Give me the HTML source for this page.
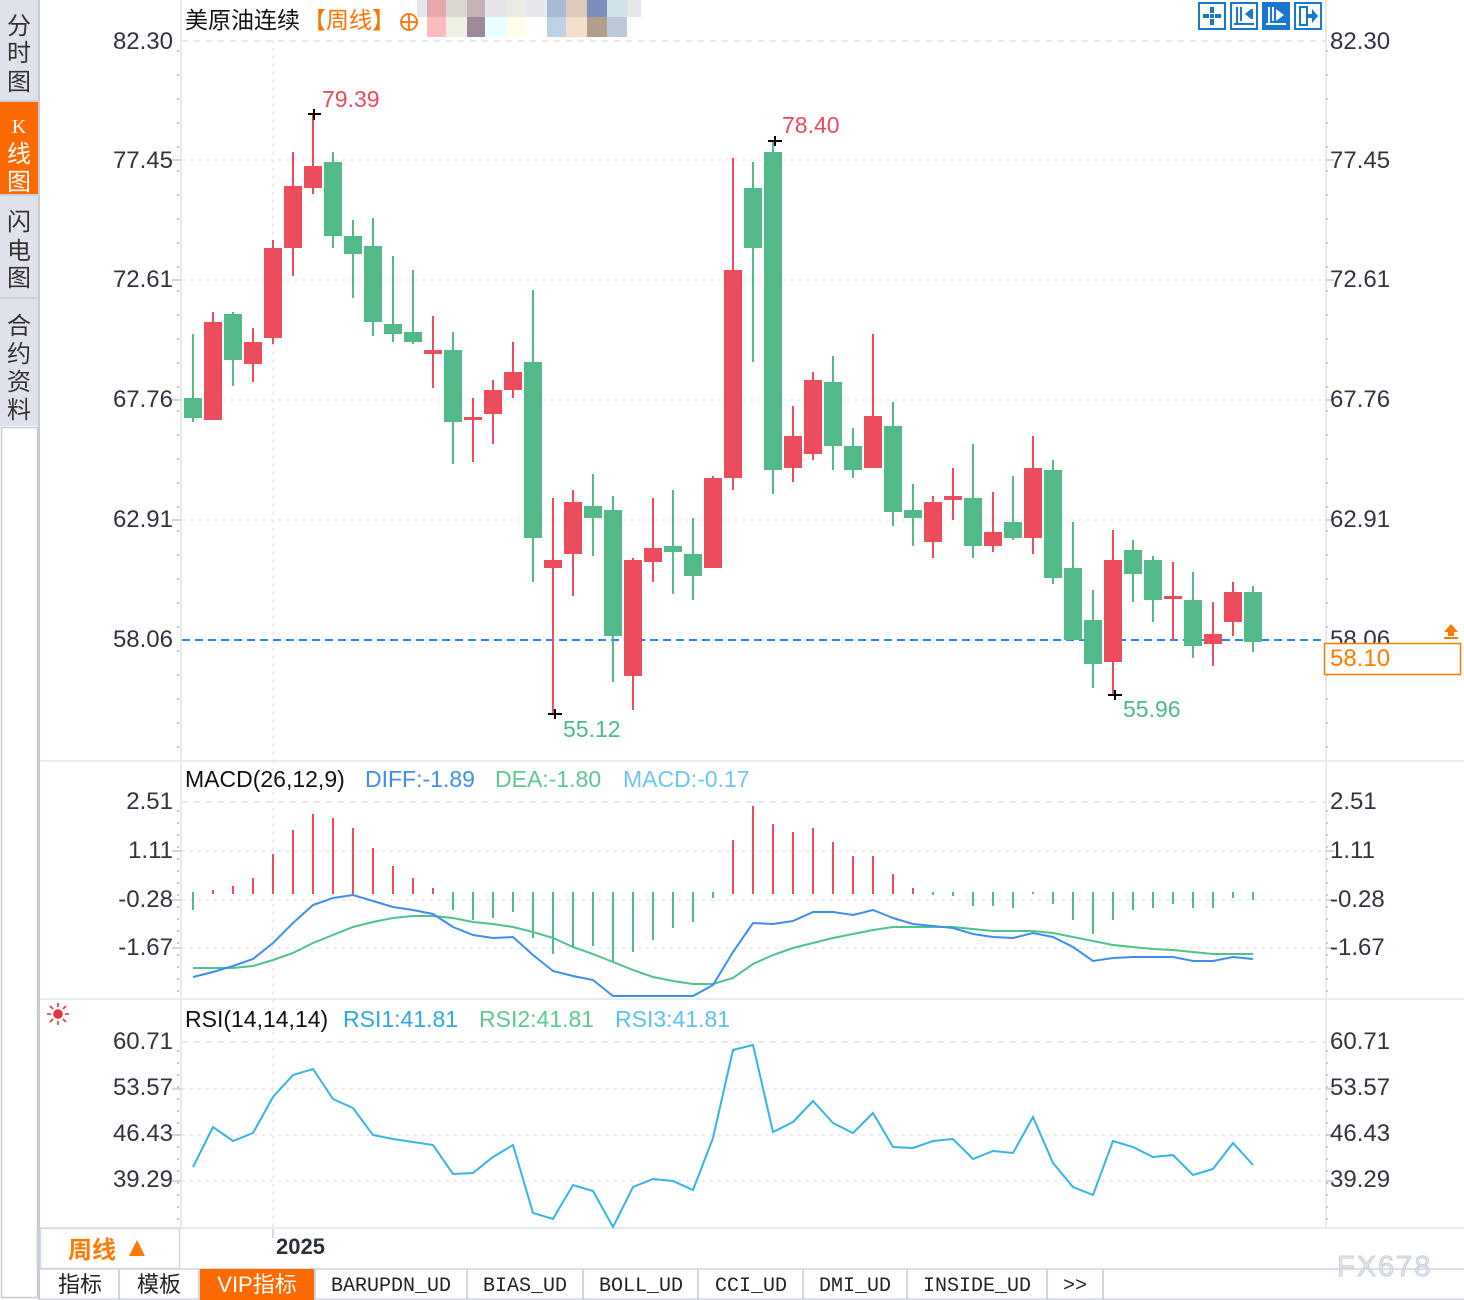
<!DOCTYPE html>
<html><head><meta charset="utf-8"><style>
html,body{margin:0;padding:0;background:#fff;}
svg{display:block;}
text{font-family:"Liberation Sans","Noto Sans CJK SC",sans-serif;}
.ax{font-size:24px;fill:#2f3441;}
.tab text{font-family:"Liberation Mono","Noto Sans CJK SC",monospace;font-size:20px;fill:#222;}
</style></head><body>
<svg width="1464" height="1300" viewBox="0 0 1464 1300" xmlns="http://www.w3.org/2000/svg">
<rect width="1464" height="1300" fill="#fff"/>

<!-- sidebar -->
<rect x="0" y="0" width="38" height="426" fill="#dfe2ea"/>
<rect x="0" y="102" width="38" height="92" fill="#ff6a00"/>
<line x1="0" y1="101" x2="38" y2="101" stroke="#cdd1d9" stroke-width="2"/>
<line x1="0" y1="195" x2="38" y2="195" stroke="#cdd1d9" stroke-width="2"/>
<line x1="0" y1="298" x2="38" y2="298" stroke="#cdd1d9" stroke-width="2"/>
<rect x="1.5" y="427.5" width="36" height="870" fill="#fff" stroke="#c8ccd4" stroke-width="1.5"/>
<line x1="39" y1="0" x2="39" y2="1300" stroke="#c8ccd4" stroke-width="2"/>
<g font-size="24" fill="#333" text-anchor="middle">
<text x="19" y="34">分</text><text x="19" y="61">时</text><text x="19" y="90">图</text>
<text x="19" y="133" fill="#fff" font-size="20" style="font-family:'Liberation Serif',serif">K</text>
<text x="19" y="162" fill="#fff">线</text><text x="19" y="190" fill="#fff">图</text>
<text x="19" y="230">闪</text><text x="19" y="259">电</text><text x="19" y="286">图</text>
<text x="19" y="334">合</text><text x="19" y="362">约</text><text x="19" y="390">资</text><text x="19" y="418">料</text>
</g>

<!-- grid -->
<g stroke="#e4e8ec" fill="none">
<line x1="182" y1="41" x2="1325" y2="41" stroke-width="2" stroke-dasharray="6 6"/>
<line x1="182" y1="160" x2="1325" y2="160" stroke-width="1.5" stroke-dasharray="3 5"/>
<line x1="182" y1="280" x2="1325" y2="280" stroke-width="1.5" stroke-dasharray="3 5"/>
<line x1="182" y1="400" x2="1325" y2="400" stroke-width="1.5" stroke-dasharray="3 5"/>
<line x1="182" y1="520" x2="1325" y2="520" stroke-width="1.5" stroke-dasharray="3 5"/>
<line x1="182" y1="802" x2="1325" y2="802" stroke-width="2" stroke-dasharray="6 6"/>
<line x1="182" y1="851" x2="1325" y2="851" stroke-width="1.5" stroke-dasharray="3 5"/>
<line x1="182" y1="900" x2="1325" y2="900" stroke-width="1.5" stroke-dasharray="3 5"/>
<line x1="182" y1="948" x2="1325" y2="948" stroke-width="1.5" stroke-dasharray="3 5"/>
<line x1="182" y1="1042" x2="1325" y2="1042" stroke-width="2" stroke-dasharray="6 6"/>
<line x1="182" y1="1089" x2="1325" y2="1089" stroke-width="1.5" stroke-dasharray="3 5"/>
<line x1="182" y1="1135" x2="1325" y2="1135" stroke-width="1.5" stroke-dasharray="3 5"/>
<line x1="182" y1="1181" x2="1325" y2="1181" stroke-width="1.5" stroke-dasharray="3 5"/>
<line x1="273" y1="40" x2="273" y2="1228" stroke-width="1.5" stroke-dasharray="3 5"/>
</g>
<!-- axes -->
<line x1="181" y1="0" x2="181" y2="1228" stroke="#e6eaee" stroke-width="2"/>
<line x1="1326" y1="0" x2="1326" y2="1228" stroke="#e6eaee" stroke-width="2"/>
<line x1="178" y1="50" x2="178" y2="758" stroke="#c3c8d0" stroke-width="2" stroke-dasharray="2 22"/>
<line x1="1327" y1="50" x2="1327" y2="758" stroke="#c3c8d0" stroke-width="2" stroke-dasharray="2 22"/>
<line x1="178" y1="810" x2="178" y2="996" stroke="#c3c8d0" stroke-width="2" stroke-dasharray="2 10"/>
<line x1="1327" y1="810" x2="1327" y2="996" stroke="#c3c8d0" stroke-width="2" stroke-dasharray="2 10"/>
<line x1="178" y1="1050" x2="178" y2="1226" stroke="#c3c8d0" stroke-width="2" stroke-dasharray="2 10"/>
<line x1="1327" y1="1050" x2="1327" y2="1226" stroke="#c3c8d0" stroke-width="2" stroke-dasharray="2 10"/>
<g stroke="#c3c8d0" stroke-width="1.5">
<line x1="172" y1="160" x2="181" y2="160"/><line x1="172" y1="280" x2="181" y2="280"/><line x1="172" y1="400" x2="181" y2="400"/><line x1="172" y1="520" x2="181" y2="520"/>
<line x1="172" y1="851" x2="181" y2="851"/><line x1="172" y1="900" x2="181" y2="900"/><line x1="172" y1="948" x2="181" y2="948"/>
<line x1="172" y1="1089" x2="181" y2="1089"/><line x1="172" y1="1135" x2="181" y2="1135"/><line x1="172" y1="1181" x2="181" y2="1181"/>
<line x1="1326" y1="160" x2="1334" y2="160"/><line x1="1326" y1="280" x2="1334" y2="280"/><line x1="1326" y1="400" x2="1334" y2="400"/><line x1="1326" y1="520" x2="1334" y2="520"/>
<line x1="1326" y1="851" x2="1334" y2="851"/><line x1="1326" y1="900" x2="1334" y2="900"/><line x1="1326" y1="948" x2="1334" y2="948"/>
<line x1="1326" y1="1089" x2="1334" y2="1089"/><line x1="1326" y1="1135" x2="1334" y2="1135"/><line x1="1326" y1="1181" x2="1334" y2="1181"/>
</g>
<!-- separators -->
<g stroke="#e6ebf0" stroke-width="2">
<line x1="40" y1="761" x2="1464" y2="761"/>
<line x1="40" y1="999" x2="1464" y2="999"/>
<line x1="40" y1="1228" x2="1464" y2="1228"/>
</g>

<!-- axis labels -->
<g class="ax" text-anchor="end">
<text x="173" y="49">82.30</text><text x="173" y="168">77.45</text><text x="173" y="287">72.61</text>
<text x="173" y="407">67.76</text><text x="173" y="527">62.91</text><text x="173" y="647">58.06</text>
<text x="173" y="809">2.51</text><text x="173" y="858">1.11</text><text x="173" y="907">-0.28</text><text x="173" y="955">-1.67</text>
<text x="173" y="1049">60.71</text><text x="173" y="1095">53.57</text><text x="173" y="1141">46.43</text><text x="173" y="1187">39.29</text>
</g>
<g class="ax">
<text x="1330" y="49">82.30</text><text x="1330" y="168">77.45</text><text x="1330" y="287">72.61</text>
<text x="1330" y="407">67.76</text><text x="1330" y="527">62.91</text><text x="1330" y="647">58.06</text>
<text x="1330" y="809">2.51</text><text x="1330" y="858">1.11</text><text x="1330" y="907">-0.28</text><text x="1330" y="955">-1.67</text>
<text x="1330" y="1049">60.71</text><text x="1330" y="1095">53.57</text><text x="1330" y="1141">46.43</text><text x="1330" y="1187">39.29</text>
</g>

<!-- header -->
<text x="185" y="28" font-size="23" fill="#111">美原油连续</text>
<text x="303" y="28" font-size="23" fill="#ff7200">【周线】</text>
<circle cx="409" cy="22" r="8" fill="none" stroke="#ff7200" stroke-width="1.8"/>
<line x1="401" y1="22" x2="417" y2="22" stroke="#ff7200" stroke-width="1.8"/>
<line x1="409" y1="14" x2="409" y2="30" stroke="#ff7200" stroke-width="1.8"/>
<g>
<rect x="417" y="0" width="10" height="17" fill="#e6e7eb"/>
<rect x="427" y="0" width="19" height="17" fill="#e8a9ac"/>
<rect x="446" y="0" width="21" height="17" fill="#d9d9d1"/>
<rect x="467" y="0" width="18" height="17" fill="#c7b2b6"/>
<rect x="485" y="0" width="22" height="17" fill="#e6e6ea"/>
<rect x="507" y="0" width="19" height="17" fill="#e9ebe2"/>
<rect x="526" y="0" width="21" height="17" fill="#e6e7eb"/>
<rect x="547" y="0" width="19" height="17" fill="#a7bad4"/>
<rect x="566" y="0" width="21" height="17" fill="#dec9b8"/>
<rect x="587" y="0" width="20" height="17" fill="#7a8fbc"/>
<rect x="607" y="0" width="20" height="17" fill="#d0e3e8"/>
<rect x="627" y="0" width="14" height="17" fill="#e6e7eb"/>
<rect x="427" y="17" width="19" height="20" fill="#ffbcbe"/>
<rect x="446" y="17" width="21" height="20" fill="#eeeee2"/>
<rect x="467" y="17" width="18" height="20" fill="#9e889a"/>
<rect x="485" y="17" width="22" height="20" fill="#e8feff"/>
<rect x="507" y="17" width="19" height="20" fill="#fffee8"/>
<rect x="547" y="17" width="19" height="20" fill="#bdd1e6"/>
<rect x="566" y="17" width="21" height="20" fill="#f3dfcc"/>
<rect x="587" y="17" width="20" height="20" fill="#b39d8b"/>
<rect x="607" y="17" width="20" height="20" fill="#bec8dc"/>
</g>

<!-- top-right icons -->
<g stroke="#1a78cc" stroke-width="2" fill="#fff">
<rect x="1199" y="3" width="26" height="26"/>
<rect x="1231" y="3" width="26" height="26"/>
<rect x="1263" y="3" width="26" height="26" fill="#1a78cc"/>
<rect x="1295" y="3" width="26" height="26"/>
</g>
<g fill="#1a78cc">
<rect x="1210" y="7" width="4" height="6"/><rect x="1210" y="19" width="4" height="6"/>
<rect x="1203" y="14" width="6" height="4"/><rect x="1215" y="14" width="6" height="4"/><rect x="1210" y="14" width="4" height="4"/>
<rect x="1236" y="7" width="2" height="18"/><rect x="1234" y="23" width="20" height="2"/><rect x="1240" y="7" width="2" height="14"/>
<polygon points="1251,9 1245,14 1251,19"/><rect x="1251" y="9" width="2" height="10"/>
<rect x="1300" y="7" width="7" height="18" fill="none" stroke="#1a78cc" stroke-width="2"/>
<rect x="1307" y="14" width="6" height="4"/><polygon points="1312,9 1318,16 1312,23"/>
</g>
<g fill="#fff">
<rect x="1268" y="7" width="2" height="18"/><rect x="1266" y="23" width="20" height="2"/><rect x="1272" y="7" width="2" height="14"/>
<polygon points="1276,9 1284,15 1276,21"/>
</g>

<!-- current price line -->
<line x1="182" y1="640" x2="1325" y2="640" stroke="#1e88ff" stroke-width="2" stroke-dasharray="8 5"/>

<!-- candles -->
<g id="candles">
<g fill="#52ba88">
<rect x="192" y="334" width="2" height="88"/><rect x="184" y="398" width="18" height="20"/>
<rect x="232" y="312" width="2" height="74"/><rect x="224" y="314" width="18" height="46"/>
<rect x="332" y="152" width="2" height="96"/><rect x="324" y="162" width="18" height="74"/>
<rect x="352" y="220" width="2" height="78"/><rect x="344" y="236" width="18" height="18"/>
<rect x="372" y="218" width="2" height="118"/><rect x="364" y="246" width="18" height="76"/>
<rect x="392" y="256" width="2" height="86"/><rect x="384" y="324" width="18" height="10"/>
<rect x="412" y="270" width="2" height="74"/><rect x="404" y="332" width="18" height="10"/>
<rect x="452" y="332" width="2" height="132"/><rect x="444" y="350" width="18" height="72"/>
<rect x="532" y="290" width="2" height="292"/><rect x="524" y="362" width="18" height="176"/>
<rect x="592" y="474" width="2" height="82"/><rect x="584" y="506" width="18" height="12"/>
<rect x="612" y="496" width="2" height="186"/><rect x="604" y="510" width="18" height="126"/>
<rect x="672" y="490" width="2" height="104"/><rect x="664" y="546" width="18" height="6"/>
<rect x="692" y="518" width="2" height="82"/><rect x="684" y="554" width="18" height="22"/>
<rect x="752" y="162" width="2" height="200"/><rect x="744" y="188" width="18" height="60"/>
<rect x="772" y="141" width="2" height="353"/><rect x="764" y="152" width="18" height="318"/>
<rect x="832" y="356" width="2" height="114"/><rect x="824" y="382" width="18" height="64"/>
<rect x="852" y="428" width="2" height="50"/><rect x="844" y="446" width="18" height="24"/>
<rect x="892" y="402" width="2" height="124"/><rect x="884" y="426" width="18" height="86"/>
<rect x="912" y="484" width="2" height="62"/><rect x="904" y="510" width="18" height="8"/>
<rect x="972" y="444" width="2" height="114"/><rect x="964" y="498" width="18" height="48"/>
<rect x="1012" y="476" width="2" height="64"/><rect x="1004" y="522" width="18" height="16"/>
<rect x="1052" y="460" width="2" height="124"/><rect x="1044" y="470" width="18" height="108"/>
<rect x="1072" y="522" width="2" height="118"/><rect x="1064" y="568" width="18" height="72"/>
<rect x="1092" y="590" width="2" height="98"/><rect x="1084" y="620" width="18" height="44"/>
<rect x="1132" y="540" width="2" height="62"/><rect x="1124" y="550" width="18" height="24"/>
<rect x="1152" y="556" width="2" height="66"/><rect x="1144" y="560" width="18" height="40"/>
<rect x="1192" y="572" width="2" height="86"/><rect x="1184" y="600" width="18" height="46"/>
<rect x="1252" y="586" width="2" height="66"/><rect x="1244" y="592" width="18" height="50"/>
</g>
<g fill="#eb4d5c">
<rect x="212" y="312" width="2" height="108"/><rect x="204" y="322" width="18" height="98"/>
<rect x="252" y="328" width="2" height="54"/><rect x="244" y="342" width="18" height="22"/>
<rect x="272" y="240" width="2" height="104"/><rect x="264" y="248" width="18" height="90"/>
<rect x="292" y="152" width="2" height="124"/><rect x="284" y="186" width="18" height="62"/>
<rect x="312" y="113" width="2" height="81"/><rect x="304" y="166" width="18" height="22"/>
<rect x="432" y="316" width="2" height="72"/><rect x="424" y="350" width="18" height="4"/>
<rect x="472" y="398" width="2" height="64"/><rect x="464" y="417" width="18" height="3"/>
<rect x="492" y="380" width="2" height="64"/><rect x="484" y="390" width="18" height="24"/>
<rect x="512" y="342" width="2" height="56"/><rect x="504" y="372" width="18" height="18"/>
<rect x="552" y="498" width="2" height="217"/><rect x="544" y="560" width="18" height="8"/>
<rect x="572" y="490" width="2" height="106"/><rect x="564" y="502" width="18" height="52"/>
<rect x="632" y="558" width="2" height="152"/><rect x="624" y="560" width="18" height="116"/>
<rect x="652" y="498" width="2" height="84"/><rect x="644" y="548" width="18" height="14"/>
<rect x="712" y="476" width="2" height="92"/><rect x="704" y="478" width="18" height="90"/>
<rect x="732" y="158" width="2" height="332"/><rect x="724" y="270" width="18" height="208"/>
<rect x="792" y="406" width="2" height="76"/><rect x="784" y="436" width="18" height="32"/>
<rect x="812" y="372" width="2" height="88"/><rect x="804" y="380" width="18" height="74"/>
<rect x="872" y="334" width="2" height="134"/><rect x="864" y="416" width="18" height="52"/>
<rect x="932" y="496" width="2" height="62"/><rect x="924" y="502" width="18" height="40"/>
<rect x="952" y="468" width="2" height="52"/><rect x="944" y="496" width="18" height="4"/>
<rect x="992" y="492" width="2" height="60"/><rect x="984" y="532" width="18" height="14"/>
<rect x="1032" y="436" width="2" height="118"/><rect x="1024" y="468" width="18" height="70"/>
<rect x="1112" y="530" width="2" height="164"/><rect x="1104" y="560" width="18" height="102"/>
<rect x="1172" y="562" width="2" height="78"/><rect x="1164" y="596" width="18" height="3"/>
<rect x="1212" y="602" width="2" height="64"/><rect x="1204" y="634" width="18" height="10"/>
<rect x="1232" y="582" width="2" height="54"/><rect x="1224" y="592" width="18" height="30"/>
</g>
</g>

<!-- extremes -->
<g stroke="#000" stroke-width="2">
<line x1="308" y1="114" x2="321" y2="114"/><line x1="314" y1="109" x2="314" y2="120"/>
<line x1="768" y1="141" x2="782" y2="141"/><line x1="775" y1="136" x2="775" y2="146"/>
<line x1="548" y1="714" x2="562" y2="714"/><line x1="555" y1="709" x2="555" y2="719"/>
<line x1="1108" y1="695" x2="1122" y2="695"/><line x1="1115" y1="690" x2="1115" y2="700"/>
</g>
<g font-size="23">
<text x="322" y="107" fill="#ec4a5c">79.39</text>
<text x="782" y="133" fill="#ec4a5c">78.40</text>
<text x="563" y="737" fill="#4fb888">55.12</text>
<text x="1123" y="717" fill="#4fb888">55.96</text>
</g>

<!-- current price box -->
<rect x="1324.5" y="643.5" width="136" height="31" fill="#fff" stroke="#ff7a00" stroke-width="1.5"/>
<text x="1330" y="666" font-size="24" fill="#ff7a00">58.10</text>
<polygon points="1451,624 1444,632 1448,632 1448,636 1454,636 1454,632 1458,632" fill="#ff7a00"/>
<rect x="1444" y="637" width="14" height="2" fill="#ff7a00"/>

<!-- MACD -->
<text y="787" font-size="23"><tspan x="185" fill="#111">MACD(26,12,9)</tspan><tspan x="365" fill="#3f8ff0">DIFF:-1.89</tspan><tspan x="495" fill="#5cc98e">DEA:-1.80</tspan><tspan x="623" fill="#6cc6f0">MACD:-0.17</tspan></text>
<g fill="#eb4d5c">
<rect x="212" y="890" width="2" height="4"/><rect x="232" y="886" width="2" height="8"/><rect x="252" y="878" width="2" height="16"/>
<rect x="272" y="854" width="2" height="40"/><rect x="292" y="830" width="2" height="64"/><rect x="312" y="814" width="2" height="80"/>
<rect x="332" y="818" width="2" height="76"/><rect x="352" y="828" width="2" height="66"/><rect x="372" y="848" width="2" height="46"/>
<rect x="392" y="866" width="2" height="28"/><rect x="412" y="878" width="2" height="16"/><rect x="432" y="888" width="2" height="6"/>
<rect x="732" y="840" width="2" height="54"/><rect x="752" y="806" width="2" height="88"/><rect x="772" y="824" width="2" height="70"/>
<rect x="792" y="832" width="2" height="62"/><rect x="812" y="828" width="2" height="66"/><rect x="832" y="842" width="2" height="52"/>
<rect x="852" y="856" width="2" height="38"/><rect x="872" y="856" width="2" height="38"/><rect x="892" y="874" width="2" height="20"/>
<rect x="912" y="888" width="2" height="6"/>
</g>
<g fill="#52ba88">
<rect x="192" y="892" width="2" height="18"/>
<rect x="452" y="892" width="2" height="18"/><rect x="472" y="892" width="2" height="28"/><rect x="492" y="892" width="2" height="26"/>
<rect x="512" y="892" width="2" height="20"/><rect x="532" y="892" width="2" height="46"/><rect x="552" y="892" width="2" height="62"/>
<rect x="572" y="892" width="2" height="56"/><rect x="592" y="892" width="2" height="54"/><rect x="612" y="892" width="2" height="70"/>
<rect x="632" y="892" width="2" height="60"/><rect x="652" y="892" width="2" height="48"/><rect x="672" y="892" width="2" height="36"/>
<rect x="692" y="892" width="2" height="30"/><rect x="712" y="892" width="2" height="6"/>
<rect x="932" y="892" width="2" height="3"/><rect x="952" y="892" width="2" height="4"/><rect x="972" y="892" width="2" height="14"/>
<rect x="992" y="892" width="2" height="14"/><rect x="1012" y="892" width="2" height="16"/><rect x="1032" y="892" width="2" height="2"/>
<rect x="1052" y="892" width="2" height="12"/><rect x="1072" y="892" width="2" height="28"/><rect x="1092" y="892" width="2" height="42"/>
<rect x="1112" y="892" width="2" height="28"/><rect x="1132" y="892" width="2" height="18"/><rect x="1152" y="892" width="2" height="16"/>
<rect x="1172" y="892" width="2" height="12"/><rect x="1192" y="892" width="2" height="16"/><rect x="1212" y="892" width="2" height="16"/>
<rect x="1232" y="892" width="2" height="6"/><rect x="1252" y="892" width="2" height="8"/>
</g>
<polyline fill="none" stroke="#4cc48a" stroke-width="2" points="193,968 213,968 233,968 253,966 273,960 293,953 313,943 333,935 353,927 373,922 393,918 413,916 433,916 453,918 473,922 493,924 513,927 533,932 553,938 573,947 593,954 613,962 633,970 653,977 673,981 693,984 713,984 733,978 753,964 773,955 793,948 813,943 833,938 853,934 873,930 893,927 913,927 933,927 953,927 973,929 993,931 1013,931 1033,931 1053,933 1073,937 1093,941 1113,945 1133,947 1153,949 1173,950 1193,952 1213,954 1233,954 1253,954"/>
<polyline fill="none" stroke="#3d8ef0" stroke-width="2" points="193,977 213,972 233,966 253,959 273,943 293,923 313,905 333,898 353,895 373,901 393,907 413,910 433,914 453,927 473,935 493,938 513,937 533,955 553,971 573,976 593,980 613,996 633,996 653,996 673,996 693,996 713,985 733,952 753,923 773,924 793,921 813,912 833,912 853,915 873,910 893,918 913,924 933,926 953,928 973,934 993,937 1013,938 1033,933 1053,937 1073,947 1093,961 1113,958 1133,957 1153,957 1173,957 1193,961 1213,961 1233,957 1253,959"/>

<!-- RSI -->
<g stroke="#e8323c" stroke-width="1.6" fill="none">
<circle cx="58" cy="1014" r="4" fill="#e8323c"/>
<line x1="58" y1="1003" x2="58" y2="1007"/><line x1="58" y1="1021" x2="58" y2="1025"/>
<line x1="47" y1="1014" x2="51" y2="1014"/><line x1="65" y1="1014" x2="69" y2="1014"/>
<line x1="50" y1="1006" x2="53" y2="1009"/><line x1="63" y1="1019" x2="66" y2="1022"/>
<line x1="66" y1="1006" x2="63" y2="1009"/><line x1="53" y1="1019" x2="50" y2="1022"/>
</g>
<text y="1027" font-size="23"><tspan x="185" fill="#111">RSI(14,14,14)</tspan><tspan x="343" fill="#2fa8e4">RSI1:41.81</tspan><tspan x="479" fill="#5cc98e">RSI2:41.81</tspan><tspan x="615" fill="#5bc0ee">RSI3:41.81</tspan></text>
<polyline fill="none" stroke="#35b4e8" stroke-width="2" points="193,1167 213,1127 233,1141 253,1133 273,1097 293,1075 313,1069 333,1099 353,1108 373,1135 393,1139 413,1142 433,1145 453,1174 473,1173 493,1157 513,1145 533,1213 553,1219 573,1185 593,1191 613,1227 633,1187 653,1179 673,1181 693,1190 713,1138 733,1050 753,1045 773,1132 793,1122 813,1101 833,1123 853,1133 873,1113 893,1147 913,1148 933,1141 953,1139 973,1159 993,1151 1013,1153 1033,1117 1053,1163 1073,1187 1093,1195 1113,1141 1133,1147 1153,1157 1173,1155 1193,1175 1213,1169 1233,1143 1253,1165"/>

<!-- date axis -->
<rect x="40.5" y="1228.5" width="139" height="40" fill="none" stroke="#d4d9e0" stroke-width="1.5"/>
<text x="68" y="1258" font-size="24" font-weight="bold" fill="#ff7a00">周线</text>
<polygon points="137,1240 129,1256 145,1256" fill="#ff7a00"/>
<line x1="273" y1="1229" x2="273" y2="1238" stroke="#c8cdd4" stroke-width="1.5"/>
<text x="276" y="1254" font-size="22" font-weight="bold" fill="#2a2f3c">2025</text>
<text x="1337" y="1276" font-size="29" fill="#e2e7ed" stroke="#b9c4d0" stroke-width="0.7" letter-spacing="2">FX678</text>

<!-- tabs -->
<line x1="40" y1="1269" x2="1464" y2="1269" stroke="#d0d6de" stroke-width="1.5"/>
<line x1="40" y1="1299" x2="1464" y2="1299" stroke="#d0d6de" stroke-width="1.5"/>
<rect x="200" y="1269" width="114" height="31" fill="#ff6a00"/>
<g stroke="#d0d6de" stroke-width="2">
<line x1="119" y1="1269" x2="119" y2="1300"/><line x1="199" y1="1269" x2="199" y2="1300"/><line x1="315" y1="1269" x2="315" y2="1300"/>
<line x1="467" y1="1269" x2="467" y2="1300"/><line x1="583" y1="1269" x2="583" y2="1300"/><line x1="698" y1="1269" x2="698" y2="1300"/>
<line x1="803" y1="1269" x2="803" y2="1300"/><line x1="907" y1="1269" x2="907" y2="1300"/><line x1="1047" y1="1269" x2="1047" y2="1300"/>
<line x1="1103" y1="1269" x2="1103" y2="1300"/>
</g>
<g font-size="22" fill="#222" text-anchor="middle">
<text x="80" y="1292">指标</text><text x="159" y="1292">模板</text>
<text x="257" y="1292" fill="#fff">VIP指标</text>
</g>
<g class="tab" text-anchor="middle">
<text x="391" y="1291">BARUPDN_UD</text><text x="525" y="1291">BIAS_UD</text><text x="641" y="1291">BOLL_UD</text>
<text x="751" y="1291">CCI_UD</text><text x="855" y="1291">DMI_UD</text><text x="977" y="1291">INSIDE_UD</text><text x="1075" y="1291">&gt;&gt;</text>
</g>
</svg>
</body></html>
